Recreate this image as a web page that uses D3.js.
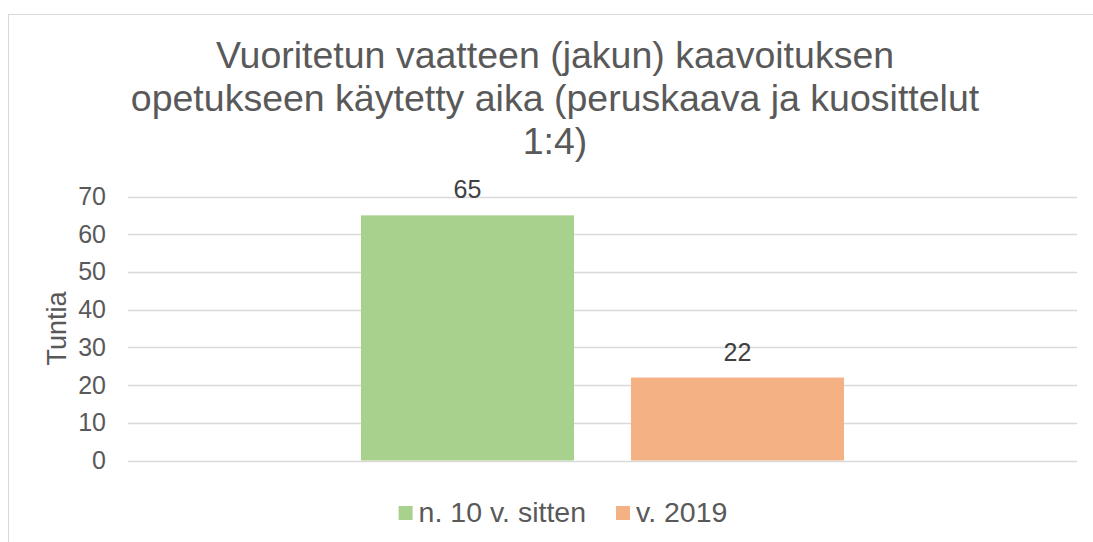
<!DOCTYPE html>
<html>
<head>
<meta charset="utf-8">
<script src="https://cdn.jsdelivr.net/npm/d3@7/dist/d3.min.js"></script>
<style>
  html, body { margin: 0; padding: 0; background: #fff; }
  svg { display: block; font-family: "Liberation Sans", Arial, sans-serif; }
</style>
</head>
<body>
<svg id="chart" width="1093" height="542"></svg>
<script>
// ---- data ----
const titleLines = ["Vuoritetun vaatteen (jakun) kaavoituksen", "opetukseen käytetty aika (peruskaava ja kuosittelut", "1:4)"];
const seriesNames = ["n. 10 v. sitten", "v. 2019"];
const seriesValues = [65, 22];
const yTickValues = [0, 10, 20, 30, 40, 50, 60, 70];
const yAxisTitle = "Tuntia";

// ---- styles ----
const seriesColors = ["#a9d18e", "#f4b183"];
const textColor = "#595959";
const gridColor = "#d9d9d9";

const svg = d3.select("#chart");

// chart border
svg.append("rect")
  .attr("x", 8.5).attr("y", 14.5)
  .attr("width", 1100).attr("height", 600)
  .attr("fill", "#fff").attr("stroke", gridColor).attr("stroke-width", 1);

const plot = { left: 128, right: 1077, top: 196.5, bottom: 460.5 };

const y = d3.scaleLinear().domain([0, 70]).range([plot.bottom, plot.top]);
const x = d3.scaleBand().domain(seriesNames)
  .range([plot.left, plot.right])
  .paddingInner(0.211).paddingOuter(0.863);

// title
const title = svg.append("text")
  .attr("text-anchor", "middle")
  .attr("fill", textColor)
  .style("font-size", "37.5px");
titleLines.forEach((line, i) => {
  title.append("tspan").attr("x", 555).attr("y", 68 + i * 43).text(line);
});

// gridlines
svg.append("g").selectAll("line").data(yTickValues).join("line")
  .attr("x1", plot.left).attr("x2", plot.right)
  .attr("y1", d => Math.round(y(d)) + 0.5).attr("y2", d => Math.round(y(d)) + 0.5)
  .attr("stroke", gridColor).attr("stroke-width", 1.3);

// y axis labels
const yAxis = d3.axisLeft(y).tickValues(yTickValues).tickSize(0).tickPadding(0);
const gy = svg.append("g").attr("transform", `translate(106,0)`).call(yAxis);
gy.select(".domain").remove();
gy.selectAll("text")
  .attr("fill", textColor)
  .style("font-size", "25px")
  .style("font-family", '"Liberation Sans", Arial, sans-serif');

// y axis title
svg.append("text")
  .attr("transform", `translate(66,${(plot.top + plot.bottom) / 2}) rotate(-90)`)
  .attr("text-anchor", "middle")
  .attr("fill", textColor)
  .style("font-size", "27px")
  .text(yAxisTitle);

// bars
svg.append("g").selectAll("rect")
  .data(seriesNames.map((n, i) => ({ name: n, value: seriesValues[i], color: seriesColors[i] })))
  .join("rect")
  .attr("x", d => x(d.name))
  .attr("y", d => y(d.value))
  .attr("width", x.bandwidth())
  .attr("height", d => y(0) - y(d.value))
  .attr("fill", d => d.color);

// data labels
svg.append("g").selectAll("text")
  .data(seriesNames.map((n, i) => ({ name: n, value: seriesValues[i] })))
  .join("text")
  .attr("x", d => x(d.name) + x.bandwidth() / 2)
  .attr("y", d => y(d.value) - 17)
  .attr("text-anchor", "middle")
  .attr("fill", "#404040")
  .style("font-size", "25px")
  .text(d => d.value);

// legend
const legend = svg.append("g");
const items = legend.selectAll("g").data(seriesNames).join("g");
items.append("rect").attr("width", 14).attr("height", 14).attr("y", 506)
  .attr("fill", (d, i) => seriesColors[i]);
items.append("text").attr("x", 20).attr("y", 522)
  .attr("fill", textColor).style("font-size", "28.5px").text(d => d);
let xpos = 0;
const offsets = [];
items.each(function () {
  offsets.push(xpos);
  const tw = d3.select(this).select("text").node().getComputedTextLength();
  xpos += 20 + tw + 30;
});
const totalW = xpos - 30;
const startX = 563 - totalW / 2;
items.attr("transform", (d, i) => `translate(${startX + offsets[i]},0)`);
</script>
</body>
</html>
